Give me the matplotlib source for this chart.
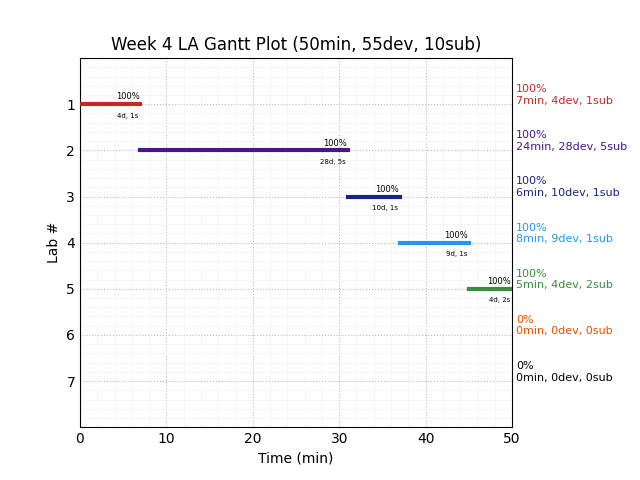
import matplotlib
matplotlib.use("Agg")
import matplotlib.pyplot as plt
from matplotlib.ticker import MultipleLocator

# lab data
labs = [1, 2, 3, 4, 5, 6, 7]
starts = [0, 7, 31, 37, 45, 0, 0]
durations = [7, 24, 6, 8, 5, 0, 0]
devs = [4, 28, 10, 9, 4, 0, 0]
subs = [1, 5, 1, 1, 2, 0, 0]
pcts = [100, 100, 100, 100, 100, 0, 0]
colors = ['#c62828', '#4a148c', '#1a237e', '#2196f3', '#388e3c', '#e65100', '#000000']

fig, ax = plt.subplots(figsize=(6.4, 4.8), dpi=100)
fig.subplots_adjust(left=0.125, right=0.8, top=0.879, bottom=0.11)

for lab, s, d, dv, sb, p, c in zip(labs, starts, durations, devs, subs, pcts, colors):
    if d > 0:
        ax.plot([s, s + d], [lab, lab], color=c, linewidth=3,
                zorder=3, clip_on=True)
        end = min(s + d, 50)
        ax.text(end - 0.1, lab - 0.06, f"{p}%", fontsize=6, ha='right', va='bottom')
        ax.text(end - 0.2, lab + 0.18, f"{dv}d, {sb}s", fontsize=5, ha='right', va='top')
    ax.text(50.45, lab - 0.2, f"{p}%\n{d}min, {dv}dev, {sb}sub", color=c,
            fontsize=8, ha='left', va='center', clip_on=False)

ax.set_xlim(0, 50)
ax.set_ylim(8, 0)
ax.set_yticks(labs)
ax.xaxis.set_major_locator(MultipleLocator(10))
ax.xaxis.set_minor_locator(MultipleLocator(2))
ax.yaxis.set_minor_locator(MultipleLocator(0.2))
ax.tick_params(which='both', length=0)
ax.grid(True, which='major', linestyle=':', color='#bbbbbb', linewidth=0.8)
ax.grid(True, which='minor', linestyle='-', color='#f4f4f4', linewidth=0.6)
ax.set_axisbelow(True)
for sp in ax.spines.values():
    sp.set_color('black')

ax.set_title('Week 4 LA Gantt Plot (50min, 55dev, 10sub)', fontsize=12)
ax.set_xlabel('Time (min)')
ax.set_ylabel('Lab #')

fig.savefig('out.png')
